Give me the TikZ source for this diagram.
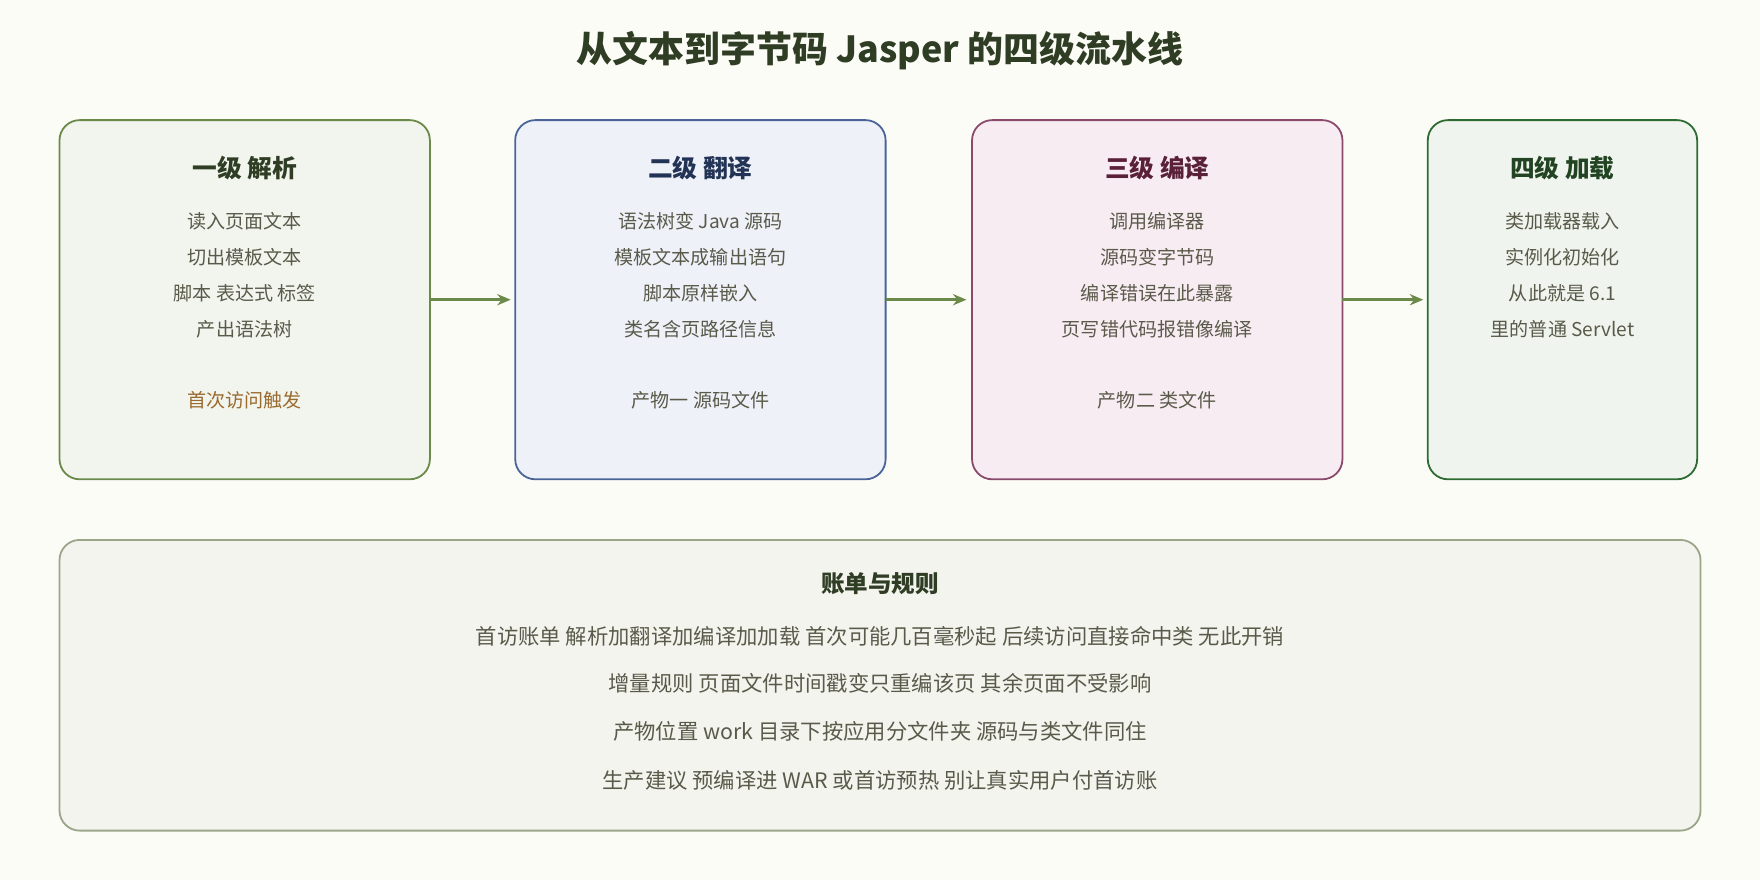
\documentclass[tikz,border=0pt]{standalone}
\usepackage{fontspec}
\setmainfont{Noto Sans CJK SC}
\usetikzlibrary{arrows.meta, positioning}
\definecolor{bgc}{HTML}{FCFCF7}
\definecolor{grnB}{HTML}{6B8A4A}\definecolor{grnF}{HTML}{F2F4EE}\definecolor{grnT}{HTML}{2F3D24}
\definecolor{bluB}{HTML}{4A6499}\definecolor{bluF}{HTML}{EEF1F8}\definecolor{bluT}{HTML}{223355}
\definecolor{redB}{HTML}{8A4A6B}\definecolor{redF}{HTML}{F8ECF3}\definecolor{redT}{HTML}{5A2038}
\definecolor{dgrB}{HTML}{2E6B30}\definecolor{dgrF}{HTML}{EFF5EE}\definecolor{dgrT}{HTML}{224422}
\definecolor{sumB}{HTML}{9AA58A}\definecolor{sumF}{HTML}{F4F4EF}
\definecolor{txtc}{HTML}{5A5A4A}\definecolor{notec}{HTML}{9A6B2E}
\tikzset{
  stage/.style = {draw, thick, rounded corners=9pt},
  head/.style = {font=\fontsize{11}{13}\selectfont\bfseries},
  line/.style = {font=\fontsize{8.5}{10}\selectfont, text=txtc},
  connector/.style = {draw=grnB, line width=1.5pt, -{Stealth[length=6pt,width=5pt]}}
}
\begin{document}
\begin{tikzpicture}[x=0.5pt, y=-0.5pt]
  \fill[bgc] (0,0) rectangle (1568,784);

  % title
  \node (title) [font=\fontsize{16}{19}\selectfont\bfseries, text=grnT] at (784,45) {从文本到字节码 Jasper 的四级流水线};

  % stage boxes
  \draw[stage, draw=grnB, fill=grnF] (53,107) rectangle (383,427);
  \draw[stage, draw=bluB, fill=bluF] (459,107) rectangle (789,427);
  \draw[stage, draw=redB, fill=redF] (866,107) rectangle (1196,427);
  \draw[stage, draw=dgrB, fill=dgrF] (1272,107) rectangle (1512,427);
  \node (parse) [coordinate] at (383,267) {};
  \node (transin) [coordinate] at (455,267) {};
  \node (trans) [coordinate] at (789,267) {};
  \node (compin) [coordinate] at (861,267) {};
  \node (comp) [coordinate] at (1196,267) {};
  \node (loadin) [coordinate] at (1268,267) {};

  % stage one
  \node[head, text=grnT] at (218,150) {一级 解析};
  \node[line] at (218,197) {读入页面文本};
  \node[line] at (218,229) {切出模板文本};
  \node[line] at (218,261) {脚本 表达式 标签};
  \node[line] at (218,293) {产出语法树};
  \node[line, text=notec] at (218,357) {首次访问触发};

  % stage two
  \node[head, text=bluT] at (624,150) {二级 翻译};
  \node[line] at (624,197) {语法树变 Java 源码};
  \node[line] at (624,229) {模板文本成输出语句};
  \node[line] at (624,261) {脚本原样嵌入};
  \node[line] at (624,293) {类名含页路径信息};
  \node[line] at (624,357) {产物一 源码文件};

  % stage three
  \node[head, text=redT] at (1031,150) {三级 编译};
  \node[line] at (1031,197) {调用编译器};
  \node[line] at (1031,229) {源码变字节码};
  \node[line] at (1031,261) {编译错误在此暴露};
  \node[line] at (1031,293) {页写错代码报错像编译};
  \node[line] at (1031,357) {产物二 类文件};

  % stage four
  \node[head, text=dgrT] at (1392,150) {四级 加载};
  \node[line] at (1392,197) {类加载器载入};
  \node[line] at (1392,229) {实例化初始化};
  \node[line] at (1392,261) {从此就是 6.1};
  \node[line] at (1392,293) {里的普通 Servlet};

  \draw[connector] (parse) -- (transin);
  \draw[connector] (trans) -- (compin);
  \draw[connector] (comp) -- (loadin);

  % summary
  \draw[stage, draw=sumB, fill=sumF] (53,481) rectangle (1515,740);
  \node[head, font=\fontsize{10.5}{12}\selectfont\bfseries, text=grnT] at (784,520) {账单与规则};
  \node[line, font=\fontsize{9.5}{11}\selectfont] at (784,567) {首访账单 解析加翻译加编译加加载 首次可能几百毫秒起 后续访问直接命中类 无此开销};
  \node[line, font=\fontsize{9.5}{11}\selectfont] at (784,609) {增量规则 页面文件时间戳变只重编该页 其余页面不受影响};
  \node[line, font=\fontsize{9.5}{11}\selectfont] at (784,652) {产物位置 work 目录下按应用分文件夹 源码与类文件同住};
  \node[line, font=\fontsize{9.5}{11}\selectfont] at (784,695) {生产建议 预编译进 WAR 或首访预热 别让真实用户付首访账};
\end{tikzpicture}
\end{document}
